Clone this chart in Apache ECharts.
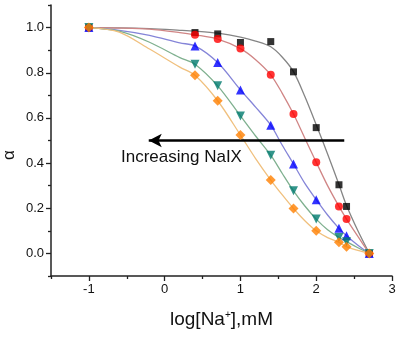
<!DOCTYPE html>
<html>
<head>
<meta charset="utf-8">
<script src="https://cdn.jsdelivr.net/npm/echarts@6/dist/echarts.min.js"></script>
<style>
html,body{margin:0;padding:0;background:#fff;}
#chart{width:400px;height:341px;}
</style>
</head>
<body>
<div id="chart"></div>
<script>
// measured points (log[Na+] positions)
const xVals = [-1, 0.4, 0.7, 1.0, 1.4, 1.7, 2.0, 2.3, 2.4, 2.7];
const blackPts  = [1.0, 0.978, 0.972, 0.934, 0.938, 0.804, 0.557, 0.304, 0.208, 0.0];
const redPts    = [1.0, 0.968, 0.949, 0.907, 0.791, 0.617, 0.404, 0.208, 0.152, 0.0];
const bluePts   = [1.0, 0.919, 0.845, 0.724, 0.568, 0.396, 0.238, 0.111, 0.078, 0.0];
const greenPts  = [1.0, 0.838, 0.742, 0.609, 0.435, 0.277, 0.152, 0.071, 0.052, 0.0];
const orangePts = [1.0, 0.789, 0.676, 0.524, 0.325, 0.199, 0.100, 0.049, 0.030, 0.0];

// fitted curves
const fitX      = [-1, -0.6, -0.2, 0.2, 0.4, 0.7, 1.0, 1.2, 1.4, 1.55, 1.7, 1.85, 2.0, 2.15, 2.3, 2.4, 2.55, 2.7];
const blackFit  = [1.0, 0.999, 0.995, 0.988, 0.984, 0.975, 0.958, 0.940, 0.915, 0.870, 0.805, 0.695, 0.570, 0.440, 0.305, 0.212, 0.100, 0.0];
const redFit    = [1.0, 0.998, 0.993, 0.978, 0.968, 0.949, 0.907, 0.858, 0.791, 0.710, 0.617, 0.510, 0.404, 0.300, 0.208, 0.152, 0.075, 0.0];
const blueFit   = [1.0, 0.988, 0.966, 0.932, 0.919, 0.845, 0.724, 0.648, 0.568, 0.480, 0.396, 0.310, 0.238, 0.170, 0.111, 0.078, 0.036, 0.0];
const greenFit  = [1.0, 0.984, 0.935, 0.867, 0.838, 0.742, 0.609, 0.520, 0.435, 0.355, 0.277, 0.210, 0.152, 0.105, 0.071, 0.052, 0.025, 0.0];
const orangeFit = [1.0, 0.980, 0.905, 0.825, 0.789, 0.676, 0.524, 0.420, 0.325, 0.260, 0.199, 0.145, 0.100, 0.070, 0.049, 0.030, 0.013, 0.0];

const xMajorTicks = [-1, 0, 1, 2, 3];
const xMinorTicks = [-1.5, -0.5, 0.5, 1.5, 2.5];
const yMajorTicks = [0, 0.2, 0.4, 0.6, 0.8, 1.0];
const yMinorTicks = [-0.1, 0.1, 0.3, 0.5, 0.7, 0.9, 1.1];

const FONT = 'Liberation Sans, Arial, sans-serif';
const pair = (xs, ys) => xs.map((x, i) => [x, ys[i]]);

const groups = [
  {name: 'A', pts: blackPts,  fit: blackFit,  mColor: '#000000', lColor: '#858585', symbol: 'rect', size: 7, rot: 0},
  {name: 'B', pts: redPts,    fit: redFit,    mColor: '#ff0000', lColor: '#d08585', symbol: 'circle', size: 8, rot: 0},
  {name: 'C', pts: bluePts,   fit: blueFit,   mColor: '#0000ff', lColor: '#8585d8', symbol: 'triangle', size: 9, rot: 0},
  {name: 'D', pts: greenPts,  fit: greenFit,  mColor: '#007a6e', lColor: '#7fb08f', symbol: 'triangle', size: 9, rot: 180},
  {name: 'E', pts: orangePts, fit: orangeFit, mColor: '#ff8000', lColor: '#f0c07e', symbol: 'diamond', size: 10, rot: 0}
];

const series = [];
groups.forEach(g => {
  series.push({
    type: 'line', name: g.name + ' fit', data: pair(fitX, g.fit),
    showSymbol: false, smooth: 0.3,
    lineStyle: {color: g.lColor, width: 1.3}, z: 2, silent: true
  });
});
groups.forEach(g => {
  series.push({
    type: 'scatter', name: g.name, data: pair(xVals, g.pts),
    symbol: g.symbol, symbolSize: g.size, symbolRotate: g.rot,
    itemStyle: {color: g.mColor}, z: 5
  });
});

const axisLineStyle = {color: '#222', width: 1.5};
const option = {
  backgroundColor: '#fff',
  animation: false,
  grid: {left: 51, right: 8, top: 5, bottom: 65},
  xAxis: [
    {
      type: 'value', min: -1.5, max: 3, position: 'bottom',
      axisLine: {show: true, onZero: false, lineStyle: axisLineStyle},
      axisTick: {show: true, customValues: xMajorTicks, length: 5, lineStyle: {color: '#222', width: 1.3}},
      axisLabel: {customValues: xMajorTicks, formatter: v => String(v), fontSize: 13, color: '#111', margin: 7, fontFamily: FONT},
      splitLine: {show: false},
      name: '{n|log[Na}{s|+}{n|],mM}', nameLocation: 'middle', nameGap: 34,
      nameTextStyle: {rich: {
        n: {fontSize: 19, color: '#111', fontFamily: FONT},
        s: {fontSize: 10, color: '#111', fontFamily: FONT, verticalAlign: 'top', padding: [0, 0, 8, 0]}
      }}
    },
    {
      type: 'value', min: -1.5, max: 3, position: 'bottom', offset: 0,
      axisLine: {show: false, onZero: false},
      axisTick: {show: true, customValues: xMinorTicks, length: 3, lineStyle: {color: '#222', width: 1.3}},
      axisLabel: {show: false},
      splitLine: {show: false}
    }
  ],
  yAxis: [
    {
      type: 'value', min: -0.1, max: 1.1, position: 'left',
      axisLine: {show: true, onZero: false, lineStyle: axisLineStyle},
      axisTick: {show: true, customValues: yMajorTicks, length: 5, lineStyle: {color: '#222', width: 1.3}},
      axisLabel: {customValues: yMajorTicks, formatter: v => v.toFixed(1), fontSize: 13, color: '#111', margin: 7, fontFamily: FONT},
      splitLine: {show: false}
    },
    {
      type: 'value', min: -0.1, max: 1.1, position: 'left', offset: 0,
      axisLine: {show: false, onZero: false},
      axisTick: {show: true, customValues: yMinorTicks, length: 3, lineStyle: {color: '#222', width: 1.3}},
      axisLabel: {show: false},
      splitLine: {show: false}
    }
  ],
  series: series.concat([{
    type: 'line', name: 'arrow', data: [], silent: true,
    markLine: {
      silent: true, symbolSize: [10, 13], animation: false,
      lineStyle: {color: '#000', width: 2.5, type: 'solid'},
      label: {show: false},
      data: [[{coord: [2.37, 0.5], symbol: 'none'}, {coord: [-0.21, 0.5], symbol: 'arrow'}]]
    }
  }]),
  graphic: [
    {type: 'text', left: 121, top: 149, style: {text: 'Increasing NaIX', fontSize: 17, fill: '#111', fontFamily: FONT}},
    {type: 'text', x: 9, y: 155, rotation: Math.PI / 2, style: {text: 'α', fontSize: 17, fill: '#111', fontFamily: FONT, align: 'center', verticalAlign: 'middle'}}
  ]
};
const chart = echarts.init(document.getElementById('chart'), null, {renderer: 'canvas'});
chart.setOption(option);
</script>
</body>
</html>
